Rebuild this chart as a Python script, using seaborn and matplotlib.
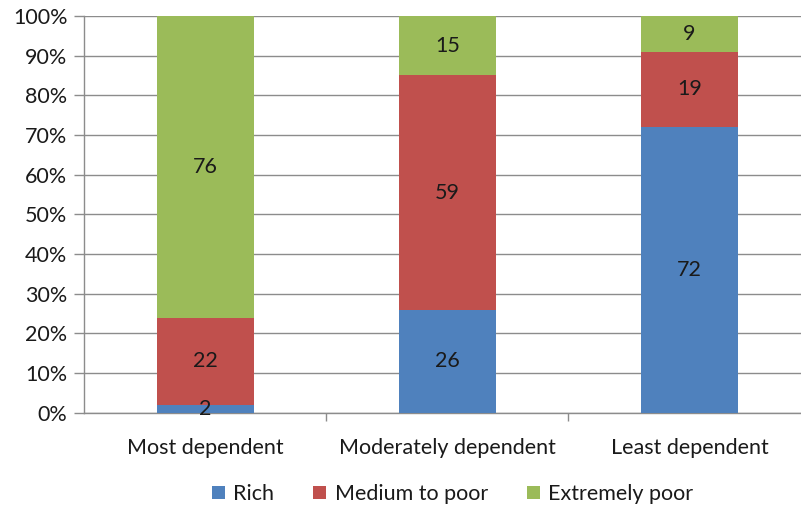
import numpy as np
import pandas as pd
import seaborn as sns
import matplotlib.pyplot as plt
from matplotlib.patches import Patch

# Data
categories = ["Most dependent", "Moderately dependent", "Least dependent"]
rich = [2, 26, 72]
medium_poor = [22, 59, 19]
extremely_poor = [76, 15, 9]
series_names = ["Rich", "Medium to poor", "Extremely poor"]
colors = ["#4F81BD", "#C0504D", "#9BBB59"]

sns.set_theme(style="white")
plt.rcParams['font.family'] = ['Lato', 'DejaVu Sans']

fs = 15.5

df = pd.DataFrame({
    "category": categories,
    "rich": rich,
    "medium": medium_poor,
    "extreme": extremely_poor,
})
df["cum1"] = df["rich"]
df["cum2"] = df["rich"] + df["medium"]
df["cum3"] = df["cum2"] + df["extreme"]

fig = plt.figure(figsize=(8.01, 5.11), dpi=100)
ax = fig.add_axes([0.105, 0.192, 0.895, 0.777])

# Draw cumulative layers from top to bottom
for col, c in zip(["cum3", "cum2", "cum1"], colors[::-1]):
    sns.barplot(data=df, x="category", y=col, color=c, width=0.4,
                saturation=1, linewidth=0, ax=ax, zorder=3)

# Segment labels
for i in range(len(categories)):
    bottoms = [0, df["cum1"][i], df["cum2"][i]]
    vals = [rich[i], medium_poor[i], extremely_poor[i]]
    for b, v in zip(bottoms, vals):
        ax.text(i, b + v / 2, str(v), ha="center", va="center",
                fontsize=fs, color="#1a1a1a", zorder=4)

ax.set_ylim(0, 100)
ax.set_xlim(-0.5, 2.46)
ax.set_yticks(np.arange(0, 101, 10))
ax.set_yticklabels([f"{v}%" for v in range(0, 101, 10)])
ax.yaxis.grid(True, color="#8c8c8c", linewidth=1, zorder=0)
ax.set_axisbelow(True)
ax.set_xlabel("")
ax.set_ylabel("")

for s in ["top", "right"]:
    ax.spines[s].set_visible(False)
for s in ["left", "bottom"]:
    ax.spines[s].set_color("#8c8c8c")
    ax.spines[s].set_linewidth(1)

ax.tick_params(axis="y", which="major", left=True, length=7, width=1,
               color="#8c8c8c", labelsize=fs, labelcolor="#1a1a1a", pad=5)
ax.tick_params(axis="x", which="major", bottom=False, labelsize=fs,
               labelcolor="#1a1a1a", pad=12)
ax.set_xticks([0.5, 1.5], minor=True)
ax.tick_params(axis="x", which="minor", bottom=True, length=6, width=1,
               color="#8c8c8c")

handles = [Patch(facecolor=c, edgecolor="none", label=n)
           for c, n in zip(colors, series_names)]
fig.legend(handles=handles, loc="center", bbox_to_anchor=(0.565, 0.033),
           ncol=3, frameon=False, fontsize=fs, handlelength=0.6,
           handleheight=0.6, handletextpad=0.4, columnspacing=1.8,
           labelcolor="#1a1a1a")

fig.savefig("out.png", dpi=100)
